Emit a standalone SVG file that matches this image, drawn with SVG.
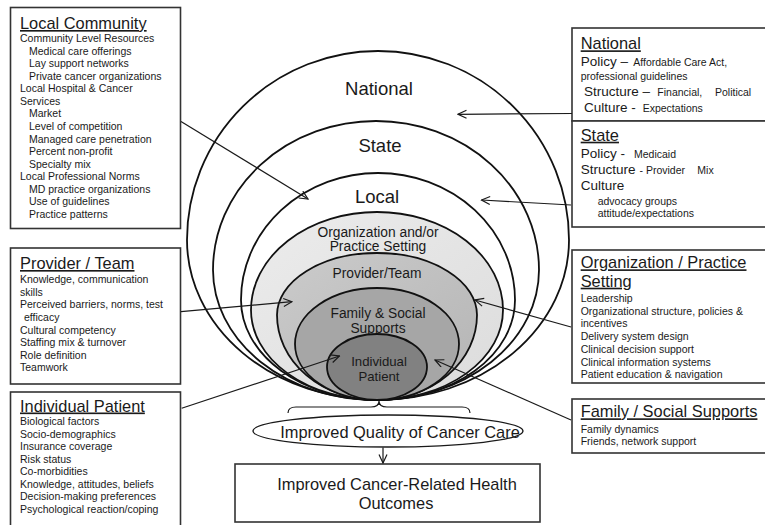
<svg xmlns="http://www.w3.org/2000/svg" width="765" height="525" viewBox="0 0 765 525">
<defs>
<marker id="ah" markerWidth="10" markerHeight="10" refX="9" refY="4.5" orient="auto" markerUnits="userSpaceOnUse">
<path d="M0.5,0.5 L9,4.5 L0.5,8.5" fill="none" stroke="#1a1a1a" stroke-width="1.2"/>
</marker>
<linearGradient id="gOrg" x1="0" y1="0" x2="1" y2="1">
<stop offset="0" stop-color="#ececec"/><stop offset="1" stop-color="#dcdcdc"/>
</linearGradient>
<linearGradient id="gProv" x1="0" y1="0" x2="1" y2="1">
<stop offset="0" stop-color="#cbcbcb"/><stop offset="1" stop-color="#b4b4b4"/>
</linearGradient>
<style>
text{font-family:"Liberation Sans",Arial,sans-serif;fill:#1a1a1a}
.box{fill:#fff;stroke:#333;stroke-width:1.6}
.ring{stroke:#111;stroke-width:1.8}
.ttl{font-size:16.4px;text-decoration:underline}
.it{font-size:10.5px}
.big{font-size:13.5px}
.lbl{text-anchor:middle}
.con{fill:none;stroke:#1a1a1a;stroke-width:1.2}
</style>
</defs>
<rect width="765" height="525" fill="#fff"/>

<g id="rings">
<g id="ring-national"><path class="ring" fill="#fff" d="M187,240 A191,189 0 0 1 569,240 A191,160 0 0 1 187,240 Z"/><text class="lbl" x="379" y="95" font-size="18.5">National</text></g>
<g id="ring-state"><path class="ring" fill="#fff" d="M213,270 A163,149 0 0 1 539,270 A163,130 0 0 1 213,270 Z"/><text class="lbl" x="380" y="152" font-size="18.5">State</text></g>
<g id="ring-local"><path class="ring" fill="#fff" d="M241,300 A137,127 0 0 1 515,300 A137,100 0 0 1 241,300 Z"/><text class="lbl" x="377" y="203" font-size="18.5">Local</text></g>
<g id="ring-org"><path class="ring" fill="url(#gOrg)" d="M251,310 A126,98 0 0 1 503,310 A126,90 0 0 1 251,310 Z"/><text class="lbl" x="378" y="237" font-size="13.8">Organization and/or</text><text class="lbl" x="378" y="251" font-size="13.8">Practice Setting</text></g>
<g id="ring-provider"><path class="ring" fill="url(#gProv)" d="M277,315 A100,62 0 0 1 477,315 A100,85 0 0 1 277,315 Z"/><text class="lbl" x="377" y="278" font-size="13.8">Provider/Team</text></g>
<g id="ring-family"><ellipse class="ring" fill="#a6a6a6" cx="377" cy="344" rx="82" ry="56"/><text class="lbl" x="378" y="318" font-size="13.8">Family &amp; Social</text><text class="lbl" x="378" y="333" font-size="13.8">Supports</text></g>
<g id="ring-individual"><ellipse class="ring" fill="#818181" cx="377" cy="367" rx="50" ry="33"/><text class="lbl" x="379" y="366" font-size="13.2">Individual</text><text class="lbl" x="379" y="381" font-size="13.2">Patient</text></g>
</g>

<g id="quality">
<path d="M288,413 Q288,407 296,407 L371,407 Q379,407 379,401 Q379,407 387,407 L462,407 Q470,407 470,413" fill="none" stroke="#1a1a1a" stroke-width="1.2"/>
<ellipse cx="388" cy="431" rx="135" ry="16" fill="#fff" stroke="#1a1a1a" stroke-width="1.3"/>
<text class="lbl" x="400" y="438" font-size="16.4">Improved Quality of Cancer Care</text>
</g>

<g id="outcomes">
<rect class="box" x="235" y="464" width="305" height="58"/>
<text class="lbl" x="397" y="490" font-size="16.4">Improved Cancer-Related Health</text>
<text class="lbl" x="396" y="509" font-size="16.4">Outcomes</text>
</g>

<g id="local-community">
<rect class="box" x="10.5" y="7.5" width="170" height="221"/>
<text class="ttl" x="20" y="29">Local Community</text>
<text class="it" x="20" y="42">Community Level Resources</text>
<text class="it" x="29" y="54.6">Medical care offerings</text>
<text class="it" x="29" y="67.1">Lay support networks</text>
<text class="it" x="29" y="79.7">Private cancer organizations</text>
<text class="it" x="20" y="92.3">Local Hospital &amp; Cancer</text>
<text class="it" x="20" y="104.9">Services</text>
<text class="it" x="29" y="117.4">Market</text>
<text class="it" x="29" y="130">Level of competition</text>
<text class="it" x="29" y="142.6">Managed care penetration</text>
<text class="it" x="29" y="155.1">Percent non-profit</text>
<text class="it" x="29" y="167.7">Specialty mix</text>
<text class="it" x="20" y="180.3">Local Professional Norms</text>
<text class="it" x="29" y="192.9">MD practice organizations</text>
<text class="it" x="29" y="205.4">Use of guidelines</text>
<text class="it" x="29" y="218">Practice patterns</text>
</g>

<g id="provider-team">
<rect class="box" x="10.5" y="248" width="170" height="136"/>
<text class="ttl" x="20" y="269">Provider / Team</text>
<text class="it" x="20" y="283.3">Knowledge, communication</text>
<text class="it" x="20" y="295.8">skills</text>
<text class="it" x="20" y="308.4">Perceived barriers, norms, test</text>
<text class="it" x="24" y="321">efficacy</text>
<text class="it" x="20" y="333.5">Cultural competency</text>
<text class="it" x="20" y="346.1">Staffing mix &amp; turnover</text>
<text class="it" x="20" y="358.7">Role definition</text>
<text class="it" x="20" y="371.2">Teamwork</text>
</g>

<g id="individual-patient">
<rect class="box" x="10.5" y="392" width="170" height="140"/>
<text class="ttl" x="20" y="411.5">Individual Patient</text>
<text class="it" x="20" y="425">Biological factors</text>
<text class="it" x="20" y="437.6">Socio-demographics</text>
<text class="it" x="20" y="450.1">Insurance coverage</text>
<text class="it" x="20" y="462.7">Risk status</text>
<text class="it" x="20" y="475.3">Co-morbidities</text>
<text class="it" x="20" y="487.9">Knowledge, attitudes, beliefs</text>
<text class="it" x="20" y="500.4">Decision-making preferences</text>
<text class="it" x="20" y="513">Psychological reaction/coping</text>
</g>

<g id="national">
<rect class="box" x="572" y="28" width="200" height="93"/>
<text class="ttl" x="580.7" y="49.3">National</text>
<text x="580.7" y="66"><tspan class="big">Policy – </tspan><tspan class="it" x="633.3">Affordable Care Act,</tspan></text>
<text class="it" x="580.7" y="80">professional guidelines</text>
<text x="584" y="96"><tspan class="big">Structure – </tspan><tspan class="it" x="657.3">Financial,</tspan><tspan class="it" x="715">Political</tspan></text>
<text x="584" y="111.7"><tspan class="big">Culture - </tspan><tspan class="it" x="642.7">Expectations</tspan></text>
</g>

<g id="state">
<rect class="box" x="572" y="121" width="200" height="106"/>
<text class="ttl" x="580.7" y="140.7">State</text>
<text x="580.7" y="158.3"><tspan class="big">Policy - </tspan><tspan class="it" x="634">Medicaid</tspan></text>
<text x="580.7" y="174"><tspan class="big">Structure </tspan><tspan class="it" x="639.5">- Provider</tspan><tspan class="it" x="697.3">Mix</tspan></text>
<text class="big" x="580.7" y="190">Culture</text>
<text class="it" x="597.7" y="205">advocacy groups</text>
<text class="it" x="597.7" y="217.3">attitude/expectations</text>
</g>

<g id="organization-practice">
<rect class="box" x="572" y="250" width="200" height="133"/>
<text class="ttl" x="580.7" y="268.3">Organization / Practice</text>
<text class="ttl" x="580.7" y="286.7">Setting</text>
<text class="it" x="580.7" y="301.7">Leadership</text>
<text class="it" x="580.7" y="314.5">Organizational structure, policies  &amp;</text>
<text class="it" x="580.7" y="327.3">incentives</text>
<text class="it" x="580.7" y="340">Delivery system design</text>
<text class="it" x="580.7" y="352.8">Clinical decision support</text>
<text class="it" x="580.7" y="365.6">Clinical information systems</text>
<text class="it" x="580.7" y="378.3">Patient education &amp; navigation</text>
</g>

<g id="family-social">
<rect class="box" x="572" y="399" width="200" height="54"/>
<text class="ttl" x="580.7" y="417.3">Family / Social Supports</text>
<text class="it" x="580.7" y="433.3">Family dynamics</text>
<text class="it" x="580.7" y="445">Friends, network support</text>
</g>

<g id="connectors">
<line class="con" x1="181" y1="121.5" x2="308" y2="199" marker-end="url(#ah)"/>
<line class="con" x1="572" y1="113.5" x2="458" y2="114.3" marker-end="url(#ah)"/>
<line class="con" x1="571" y1="205" x2="481.5" y2="200" marker-end="url(#ah)"/>
<line class="con" x1="181" y1="311.7" x2="292" y2="301.7" marker-end="url(#ah)"/>
<line class="con" x1="571" y1="327" x2="475" y2="300" marker-end="url(#ah)"/>
<line class="con" x1="181.7" y1="408.3" x2="339.5" y2="356" marker-end="url(#ah)"/>
<line class="con" x1="571" y1="420" x2="435" y2="360" marker-end="url(#ah)"/>
<line class="con" x1="383" y1="447.5" x2="383" y2="463" marker-end="url(#ah)"/>
</g>
</svg>
